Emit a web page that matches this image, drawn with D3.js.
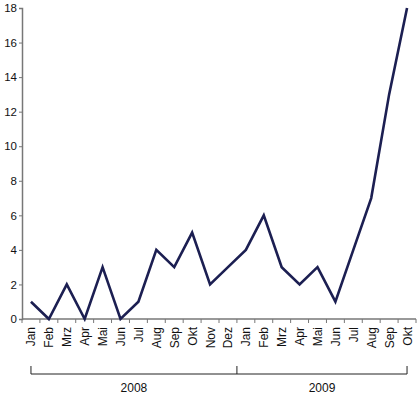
<!DOCTYPE html>
<html>
<head>
<meta charset="utf-8">
<script src="https://cdn.jsdelivr.net/npm/d3@7"></script>
<style>
  body { margin: 0; background: #fff; }
  text { font-family: "Liberation Sans", Arial, sans-serif; fill: #111; }
</style>
</head>
<body>
<script>
const width = 418, height = 400;

const months = ["Jan", "Feb", "Mrz", "Apr", "Mai", "Jun", "Jul", "Aug", "Sep", "Okt", "Nov", "Dez",
                "Jan", "Feb", "Mrz", "Apr", "Mai", "Jun", "Jul", "Aug", "Sep", "Okt"];
const values = [1, 0, 2, 0, 3, 0, 1, 4, 3, 5, 2, 3,
                4, 6, 3, 2, 3, 1, 4, 7, 13, 18];
const years = ["2008", "2009"];
const yearStart = [0, 12];   // index of first month of each year
const yTicks = [0, 2, 4, 6, 8, 10, 12, 14, 16, 18];

const margin = { left: 22, right: 2, top: 8, bottom: 81 };

const svg = d3.select("body").append("svg")
    .attr("width", width)
    .attr("height", height);

const x = d3.scaleBand()
    .domain(d3.range(months.length))
    .range([margin.left, width - margin.right]);

const y = d3.scaleLinear()
    .domain([0, 18])
    .range([height - margin.bottom, margin.top]);

const axisColor = "#777";

// y axis
const yAxis = svg.append("g")
    .attr("transform", `translate(${margin.left},0)`)
    .call(d3.axisLeft(y).tickValues(yTicks).tickSize(3).tickPadding(2));
yAxis.select(".domain").attr("stroke", axisColor).attr("stroke-width", 1.5);
yAxis.selectAll(".tick line").attr("stroke", axisColor);
yAxis.selectAll(".tick text").attr("font-size", 11.5).attr("fill", "#111")
    .attr("font-family", "Liberation Sans, Arial, sans-serif");

// x axis with ticks at band boundaries
const y0 = y(0);
svg.append("line")
    .attr("x1", margin.left).attr("x2", width - margin.right)
    .attr("y1", y0).attr("y2", y0)
    .attr("stroke", axisColor).attr("stroke-width", 1.5);

svg.append("g").selectAll("line")
    .data(d3.range(months.length + 1))
    .enter().append("line")
    .attr("x1", i => x.range()[0] + i * x.step())
    .attr("x2", i => x.range()[0] + i * x.step())
    .attr("y1", y0).attr("y2", y0 + 4)
    .attr("stroke", axisColor);

svg.append("g").selectAll("text")
    .data(months)
    .enter().append("text")
    .attr("transform", (d, i) => `translate(${x(i) + x.bandwidth() / 2 + 4.5},${y0 + 8}) rotate(-90)`)
    .attr("text-anchor", "end")
    .attr("font-size", 12)
    .text(d => d);

// year brackets
const cx = i => x(i) + x.bandwidth() / 2;
const bracketY = 374;
const ends = [cx(0), x(yearStart[1]), cx(months.length - 1)];
const br = svg.append("g").attr("stroke", "#222").attr("stroke-width", 1).attr("fill", "none");
br.append("line").attr("x1", ends[0]).attr("x2", ends[2]).attr("y1", bracketY).attr("y2", bracketY);
ends.forEach(e => {
    br.append("line").attr("x1", e).attr("x2", e).attr("y1", bracketY - 8).attr("y2", bracketY);
});

svg.append("g").selectAll("text")
    .data(years)
    .enter().append("text")
    .attr("x", (d, i) => (ends[i] + ends[i + 1]) / 2)
    .attr("y", 392)
    .attr("text-anchor", "middle")
    .attr("font-size", 12)
    .text(d => d);

// data line
const line = d3.line()
    .x((d, i) => cx(i))
    .y(d => y(d));

svg.append("path")
    .datum(values)
    .attr("fill", "none")
    .attr("stroke", "#1c1f52")
    .attr("stroke-width", 2.6)
    .attr("stroke-linejoin", "miter")
    .attr("d", line);
</script>
</body>
</html>
